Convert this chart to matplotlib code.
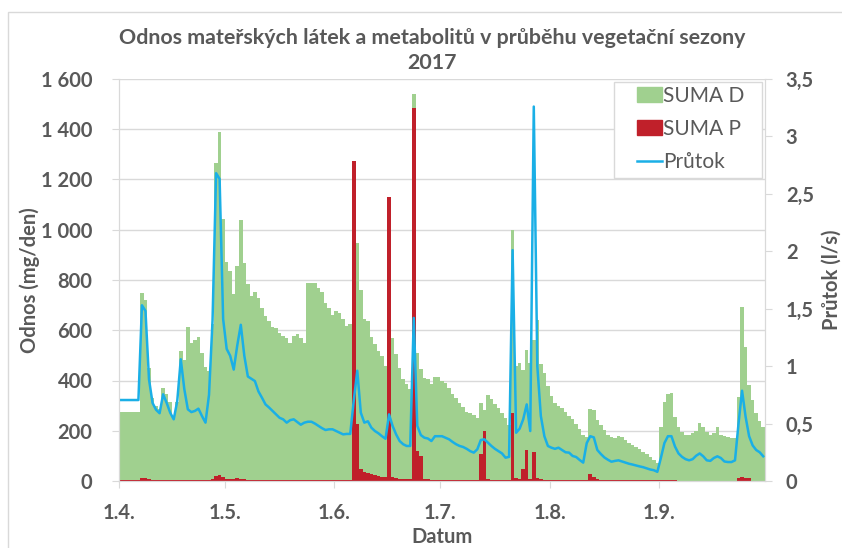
"""
Odnos materskych latek a metabolitu - vegetacni sezona 2017.
"""
import matplotlib
matplotlib.use("Agg")
import matplotlib.pyplot as plt
import matplotlib.dates as mdates
import pandas as pd
from matplotlib.patches import Patch, Rectangle
from matplotlib.lines import Line2D
from matplotlib.ticker import FuncFormatter, MultipleLocator

# daily values 1.4. - 30.9.2017
dates = pd.date_range("2017-04-01", "2017-09-30", freq="D")

suma_d = [
    275, 275, 275, 275, 275, 275, 750, 719, 450, 330,
    300, 285, 370, 348, 315, 245, 315, 517, 481, 614,
    548, 561, 572, 508, 455, 439, 625, 1265, 1390, 1042,
    872, 836, 743, 856, 1038, 869, 783, 736, 752, 730,
    690, 657, 637, 614, 610, 590, 577, 571, 551, 577,
    584, 571, 551, 787, 787, 790, 770, 752, 710, 690,
    660, 677, 670, 644, 617, 626, 816, 946, 759, 644,
    637, 575, 544, 518, 498, 458, 922, 570, 504, 451,
    405, 385, 365, 1539, 511, 445, 411, 405, 385, 415,
    415, 400, 389, 369, 347, 329, 309, 296, 276, 269,
    263, 249, 310, 283, 343, 325, 307, 289, 269, 249,
    223, 1000, 456, 470, 440, 520, 470, 560, 640, 464,
    431, 380, 340, 310, 300, 290, 275, 260, 245, 225,
    205, 185, 175, 285, 283, 243, 223, 203, 183, 176,
    170, 180, 176, 163, 153, 143, 137, 126, 117, 107,
    97, 84, 70, 216, 316, 346, 349, 256, 216, 196,
    183, 183, 190, 200, 232, 216, 196, 183, 190, 216,
    183, 180, 176, 170, 170, 336, 691, 535, 382, 322,
    272, 240, 213,
]

suma_p = [
    5, 5, 5, 5, 5, 5, 12, 10, 6, 5,
    5, 5, 5, 5, 5, 5, 5, 5, 5, 5,
    5, 5, 5, 5, 5, 5, 8, 18, 22, 15,
    8, 6, 6, 10, 8, 6, 5, 5, 5, 5,
    5, 5, 5, 5, 5, 5, 5, 5, 5, 5,
    5, 5, 5, 5, 5, 5, 5, 5, 5, 5,
    5, 5, 5, 5, 5, 5, 1274, 228, 46, 36,
    30, 27, 23, 20, 17, 16, 1132, 14, 10, 8,
    6, 6, 6, 1483, 118, 100, 8, 6, 5, 5,
    5, 5, 5, 5, 5, 5, 5, 5, 5, 5,
    5, 5, 107, 199, 8, 5, 5, 5, 5, 5,
    5, 270, 10, 6, 47, 123, 8, 116, 12, 6,
    5, 5, 5, 5, 5, 5, 5, 5, 5, 5,
    5, 5, 5, 27, 15, 6, 5, 5, 5, 5,
    5, 5, 5, 5, 5, 5, 5, 5, 5, 5,
    5, 5, 5, 5, 5, 5, 5, 5, 0, 0,
    0, 0, 0, 0, 0, 0, 0, 0, 0, 0,
    0, 0, 0, 0, 0, 12, 15, 12, 10, 0,
    0, 0, 0,
]

prutok = [
    0.705, 0.705, 0.705, 0.705, 0.705, 0.705, 1.53, 1.48, 0.885, 0.68,
    0.62, 0.59, 0.755, 0.68, 0.595, 0.537, 0.696, 1.06, 0.80, 0.624,
    0.60, 0.61, 0.63, 0.566, 0.508, 0.75, 1.4, 2.68, 2.63, 1.41,
    1.15, 1.09, 0.97, 1.18, 1.36, 1.09, 0.91, 0.89, 0.87, 0.78,
    0.725, 0.667, 0.64, 0.61, 0.58, 0.55, 0.537, 0.508, 0.53, 0.537,
    0.514, 0.49, 0.508, 0.516, 0.516, 0.5, 0.48, 0.46, 0.444, 0.45,
    0.45, 0.435, 0.42, 0.406, 0.41, 0.41, 0.7, 0.96, 0.595, 0.508,
    0.52, 0.464, 0.435, 0.415, 0.39, 0.368, 0.58, 0.48, 0.406, 0.348,
    0.32, 0.305, 0.305, 1.42, 0.48, 0.40, 0.377, 0.37, 0.348, 0.39,
    0.39, 0.39, 0.377, 0.363, 0.34, 0.32, 0.305, 0.296, 0.28, 0.26,
    0.247, 0.276, 0.357, 0.363, 0.334, 0.305, 0.28, 0.26, 0.24, 0.203,
    0.21, 2.01, 0.42, 0.456, 0.537, 0.667, 0.435, 3.26, 1.0, 0.566,
    0.39, 0.305, 0.29, 0.28, 0.29, 0.27, 0.25, 0.247, 0.218, 0.209,
    0.183, 0.16, 0.33, 0.39, 0.38, 0.27, 0.235, 0.205, 0.185, 0.168,
    0.175, 0.18, 0.17, 0.16, 0.15, 0.143, 0.135, 0.127, 0.12, 0.11,
    0.10, 0.094, 0.08, 0.2, 0.33, 0.39, 0.39, 0.30, 0.24, 0.21,
    0.19, 0.18, 0.19, 0.22, 0.24, 0.215, 0.18, 0.175, 0.2, 0.215,
    0.2, 0.17, 0.165, 0.165, 0.18, 0.5, 0.786, 0.56, 0.39, 0.31,
    0.27, 0.25, 0.215,
]

month_ticks = pd.date_range("2017-04-01", "2017-09-01", freq="MS")
series_names = ["SUMA D", "SUMA P", "Průtok"]

GREEN = "#A0D08F"
RED = "#C0202A"
BLUE = "#1AAFE6"
GREY = "#595959"
GRID = "#D9D9D9"

plt.rcParams["font.family"] = ["Lato", "DejaVu Sans"]

fig = plt.figure(figsize=(8.42, 5.48), dpi=100)
ax = fig.add_axes([119 / 842, 1 - 481 / 548, 646 / 842, 402 / 548])
ax2 = ax.twinx()

# chart area frame (only top/left edge visible in the original)
fig.patches.append(Rectangle((8 / 842, -0.05), 1.2, 1 - 12 / 548 + 0.05,
                             transform=fig.transFigure, fill=False,
                             edgecolor=GRID, lw=1))

ax.bar(dates, suma_d, width=1.0, align="edge", color=GREEN, lw=0)
ax.bar(dates, suma_p, width=1.0, align="edge", color=RED, lw=0)
ax2.plot(dates + pd.Timedelta(hours=12), prutok, color=BLUE, lw=1.8)

ax.set_xlim(pd.Timestamp("2017-04-01"), pd.Timestamp("2017-10-01"))
ax.set_ylim(0, 1600)
ax2.set_ylim(0, 3.5)
ax.yaxis.set_major_locator(MultipleLocator(200))
ax2.yaxis.set_major_locator(MultipleLocator(0.5))
ax.yaxis.set_major_formatter(FuncFormatter(lambda v, p: f"{int(v):,}".replace(",", " ")))
ax2.yaxis.set_major_formatter(FuncFormatter(lambda v, p: f"{v:g}".replace(".", ",")))
ax.set_xticks(month_ticks)
ax.xaxis.set_major_formatter(FuncFormatter(
    lambda v, p: f"{mdates.num2date(v).day}.{mdates.num2date(v).month}."))

ax.grid(axis="y", color=GRID, lw=1)
ax.set_axisbelow(True)
for a in (ax, ax2):
    a.spines["top"].set_visible(False)
    for s in ("left", "right", "bottom"):
        a.spines[s].set_color(GRID)
ax.tick_params(axis="y", length=5, color=GRID, pad=14, labelsize=14.5,
               labelcolor=GREY)
ax2.tick_params(axis="y", length=5, color=GRID, pad=10, labelsize=14.5,
                labelcolor=GREY)
ax.tick_params(axis="x", length=5, color=GRID, pad=11, labelsize=14.5,
               labelcolor=GREY)
for lab in ax.get_yticklabels() + ax2.get_yticklabels() + ax.get_xticklabels():
    lab.set_fontweight("bold")

ax.set_ylabel("Odnos (mg/den)", fontsize=14.5, fontweight="bold", color=GREY)
ax2.set_ylabel("Průtok (l/s)", fontsize=14.5, fontweight="bold", color=GREY)
ax.set_xlabel("Datum", fontsize=14.5, fontweight="bold", color=GREY)
ax.yaxis.set_label_coords(-79 / 646, 0.5)
ax2.yaxis.set_label_coords(1 + 57 / 646, 0.5)
ax.xaxis.set_label_coords(0.5, -46 / 402)

title_x = 432 / 842
fig.text(title_x, 1 - 38 / 548,
         "Odnos mateřských látek a metabolitů v průběhu vegetační sezony",
         ha="center", va="center", fontsize=15.4, fontweight="bold", color=GREY)
fig.text(title_x, 1 - 63 / 548, "2017",
         ha="center", va="center", fontsize=15.4, fontweight="bold", color=GREY)

# legend box drawn separately so the inner padding matches
ax2.add_patch(Rectangle(((614 - 119) / 646, (481 - 178) / 402), 148 / 646, 96 / 402,
                        transform=ax2.transAxes, facecolor="white",
                        edgecolor=GRID, lw=1, zorder=4))
handles = [Patch(color=GREEN), Patch(color=RED), Line2D([], [], color=BLUE, lw=1.8)]
leg = ax2.legend(handles, series_names, loc="upper left",
                 bbox_to_anchor=((637 - 119) / 646, (481 - 86) / 402),
                 fontsize=15, frameon=False, borderpad=0,
                 handlelength=1.2, handleheight=0.7, handletextpad=0.05,
                 labelspacing=0.62, borderaxespad=0)
leg.set_zorder(5)
for t in leg.get_texts():
    t.set_color(GREY)

fig.savefig("out.png", dpi=100)
